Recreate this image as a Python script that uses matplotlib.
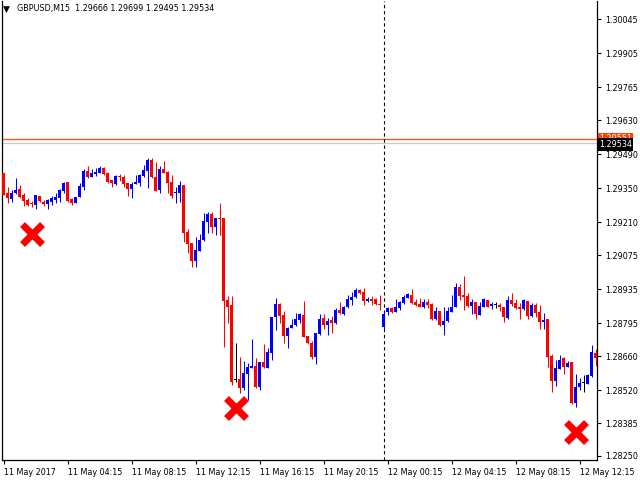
import numpy as np
import matplotlib
matplotlib.use('Agg')
import matplotlib.pyplot as plt

# GBPUSD M15 candles
opens = [
    1.29412, 1.29330, 1.29305, 1.29330, 1.29346, 1.29322, 1.29301, 1.29289, 1.29281, 1.29317,
    1.29293, 1.29285, 1.29293, 1.29301, 1.29309, 1.29338, 1.29375, 1.29305, 1.29289, 1.29313,
    1.29354, 1.29420, 1.29395, 1.29408, 1.29412, 1.29433, 1.29412, 1.29383, 1.29367, 1.29400,
    1.29395, 1.29371, 1.29346, 1.29367, 1.29371, 1.29400, 1.29420, 1.29465, 1.29395, 1.29342,
    1.29428, 1.29416, 1.29375, 1.29330, 1.29330, 1.29363, 1.29170, 1.29124, 1.29050, 1.29092,
    1.29137, 1.29211, 1.29244, 1.29190, 1.29227, 1.29227, 1.28890, 1.28870, 1.28561, 1.28565,
    1.28529, 1.28586, 1.28611, 1.28619, 1.28533, 1.28635, 1.28611, 1.28672, 1.28820, 1.28874,
    1.28829, 1.28743, 1.28775, 1.28788, 1.28808, 1.28829, 1.28743, 1.28714, 1.28656, 1.28751,
    1.28816, 1.28788, 1.28808, 1.28796, 1.28849, 1.28833, 1.28861, 1.28890, 1.28902, 1.28931,
    1.28923, 1.28886, 1.28894, 1.28894, 1.28874, 1.28779, 1.28841, 1.28857, 1.28841, 1.28857,
    1.28878, 1.28898, 1.28911, 1.28882, 1.28874, 1.28861, 1.28882, 1.28874, 1.28812, 1.28845,
    1.28788, 1.28804, 1.28841, 1.28861, 1.28944, 1.28911, 1.28907, 1.28865, 1.28882, 1.28829,
    1.28861, 1.28890, 1.28865, 1.28870, 1.28870, 1.28861, 1.28816, 1.28890, 1.28878, 1.28861,
    1.28853, 1.28886, 1.28824, 1.28870, 1.28841, 1.28800, 1.28812, 1.28660, 1.28557, 1.28606,
    1.28652, 1.28615, 1.28635, 1.28467, 1.28533, 1.28549, 1.28545, 1.28578, 1.28672]
highs = [
    1.29412, 1.29354, 1.29342, 1.29391, 1.29363, 1.29330, 1.29309, 1.29297, 1.29322, 1.29317,
    1.29301, 1.29305, 1.29317, 1.29330, 1.29346, 1.29375, 1.29375, 1.29309, 1.29313, 1.29371,
    1.29428, 1.29441, 1.29428, 1.29433, 1.29441, 1.29437, 1.29416, 1.29383, 1.29404, 1.29408,
    1.29404, 1.29371, 1.29375, 1.29404, 1.29408, 1.29445, 1.29474, 1.29474, 1.29457, 1.29441,
    1.29461, 1.29420, 1.29404, 1.29354, 1.29379, 1.29363, 1.29182, 1.29124, 1.29150, 1.29162,
    1.29248, 1.29252, 1.29252, 1.29227, 1.29289, 1.29227, 1.28907, 1.28907, 1.28714, 1.28656,
    1.28639, 1.28631, 1.28730, 1.28652, 1.28635, 1.28710, 1.28693, 1.28820, 1.28898, 1.28878,
    1.28845, 1.28779, 1.28812, 1.28837, 1.28837, 1.28886, 1.28743, 1.28722, 1.28755, 1.28833,
    1.28833, 1.28816, 1.28824, 1.28857, 1.28882, 1.28865, 1.28911, 1.28923, 1.28940, 1.28935,
    1.28940, 1.28902, 1.28907, 1.28898, 1.28911, 1.28845, 1.28861, 1.28861, 1.28894, 1.28886,
    1.28911, 1.28919, 1.28935, 1.28894, 1.28898, 1.28894, 1.28894, 1.28878, 1.28861, 1.28845,
    1.28861, 1.28861, 1.28911, 1.28960, 1.28956, 1.28989, 1.28919, 1.28894, 1.28882, 1.28882,
    1.28898, 1.28890, 1.28882, 1.28882, 1.28878, 1.28861, 1.28907, 1.28919, 1.28894, 1.28878,
    1.28894, 1.28886, 1.28878, 1.28878, 1.28870, 1.28837, 1.28812, 1.28668, 1.28644, 1.28664,
    1.28656, 1.28639, 1.28635, 1.28586, 1.28570, 1.28582, 1.28586, 1.28706, 1.28689]
lows = [
    1.29322, 1.29289, 1.29293, 1.29326, 1.29309, 1.29276, 1.29276, 1.29272, 1.29264, 1.29293,
    1.29276, 1.29264, 1.29281, 1.29289, 1.29293, 1.29330, 1.29293, 1.29281, 1.29289, 1.29313,
    1.29342, 1.29391, 1.29395, 1.29400, 1.29412, 1.29404, 1.29371, 1.29354, 1.29363, 1.29379,
    1.29354, 1.29317, 1.29309, 1.29367, 1.29359, 1.29395, 1.29350, 1.29391, 1.29338, 1.29330,
    1.29412, 1.29330, 1.29309, 1.29289, 1.29293, 1.29129, 1.29083, 1.29026, 1.29026, 1.29092,
    1.29133, 1.29166, 1.29166, 1.29158, 1.29158, 1.28697, 1.28796, 1.28541, 1.28553, 1.28508,
    1.28520, 1.28479, 1.28611, 1.28529, 1.28520, 1.28611, 1.28611, 1.28644, 1.28767, 1.28796,
    1.28714, 1.28693, 1.28775, 1.28783, 1.28796, 1.28739, 1.28710, 1.28647, 1.28627, 1.28747,
    1.28771, 1.28747, 1.28755, 1.28792, 1.28833, 1.28829, 1.28857, 1.28870, 1.28898, 1.28915,
    1.28870, 1.28882, 1.28870, 1.28870, 1.28849, 1.28771, 1.28829, 1.28837, 1.28841, 1.28849,
    1.28874, 1.28898, 1.28874, 1.28865, 1.28861, 1.28857, 1.28857, 1.28808, 1.28808, 1.28783,
    1.28747, 1.28800, 1.28841, 1.28861, 1.28890, 1.28849, 1.28861, 1.28833, 1.28812, 1.28829,
    1.28861, 1.28861, 1.28853, 1.28857, 1.28845, 1.28800, 1.28812, 1.28865, 1.28853, 1.28812,
    1.28849, 1.28812, 1.28820, 1.28820, 1.28771, 1.28771, 1.28615, 1.28512, 1.28537, 1.28606,
    1.28586, 1.28615, 1.28463, 1.28450, 1.28520, 1.28512, 1.28545, 1.28574, 1.28619]
closes = [
    1.29322, 1.29309, 1.29330, 1.29342, 1.29313, 1.29297, 1.29281, 1.29285, 1.29322, 1.29297,
    1.29285, 1.29301, 1.29309, 1.29313, 1.29342, 1.29371, 1.29297, 1.29289, 1.29313, 1.29359,
    1.29420, 1.29395, 1.29412, 1.29416, 1.29433, 1.29408, 1.29375, 1.29371, 1.29400, 1.29395,
    1.29367, 1.29346, 1.29367, 1.29375, 1.29404, 1.29424, 1.29465, 1.29395, 1.29338, 1.29428,
    1.29412, 1.29371, 1.29317, 1.29334, 1.29363, 1.29166, 1.29120, 1.29050, 1.29096, 1.29137,
    1.29215, 1.29244, 1.29190, 1.29227, 1.29223, 1.28886, 1.28861, 1.28553, 1.28561, 1.28529,
    1.28590, 1.28615, 1.28619, 1.28533, 1.28635, 1.28615, 1.28676, 1.28820, 1.28874, 1.28824,
    1.28743, 1.28775, 1.28788, 1.28812, 1.28833, 1.28739, 1.28714, 1.28656, 1.28755, 1.28812,
    1.28788, 1.28804, 1.28796, 1.28849, 1.28837, 1.28861, 1.28894, 1.28902, 1.28931, 1.28919,
    1.28886, 1.28894, 1.28886, 1.28874, 1.28870, 1.28833, 1.28857, 1.28841, 1.28861, 1.28882,
    1.28902, 1.28915, 1.28878, 1.28870, 1.28861, 1.28882, 1.28870, 1.28812, 1.28845, 1.28788,
    1.28804, 1.28845, 1.28861, 1.28944, 1.28907, 1.28902, 1.28865, 1.28882, 1.28833, 1.28865,
    1.28894, 1.28861, 1.28874, 1.28870, 1.28861, 1.28820, 1.28890, 1.28874, 1.28857, 1.28853,
    1.28890, 1.28824, 1.28870, 1.28837, 1.28800, 1.28808, 1.28656, 1.28557, 1.28611, 1.28644,
    1.28615, 1.28631, 1.28467, 1.28533, 1.28549, 1.28549, 1.28582, 1.28676, 1.28652]

ytick_vals = [1.30045, 1.29905, 1.29765, 1.29630, 1.29490, 1.29350, 1.29210,
              1.29075, 1.28935, 1.28795, 1.28660, 1.28520, 1.28385, 1.28250]
xtick_pos = [0, 16, 32, 48, 64, 80, 96, 112, 128, 144]
xtick_labels = ['11 May 2017', '11 May 04:15', '11 May 08:15', '11 May 12:15',
                '11 May 16:15', '11 May 20:15', '12 May 00:15', '12 May 04:15',
                '12 May 08:15', '12 May 12:15']
header = 'GBPUSD,M15  1.29666 1.29699 1.29495 1.29534'
ask_price = 1.29551
bid_price = 1.29534
cursor_bar = 95
# red crosses: (bar index, price)
cross_x = [7, 58, 143]
cross_y = [1.29161, 1.28446, 1.28348]

o = np.array(opens); h = np.array(highs); l = np.array(lows); c = np.array(closes)
n = len(o)
x = np.arange(n)
cols = np.where(c > o, '#0000ff', np.where(c < o, '#ff0000', '#000000'))

fig = plt.figure(figsize=(6.4, 4.8), dpi=100)
ax = fig.add_axes([2/640, 20/480, 595/640, 459/480])
ax.set_xlim(-0.375, 148.375)
ax.set_ylim(1.28233, 1.30119)

ax.axhline(ask_price, color='#ff5a1a', lw=1.0, zorder=1)
ax.axhline(bid_price, color='#c8c8c8', lw=0.9, zorder=1)
ax.axvline(cursor_bar, color='black', lw=0.8, ls=(0, (3, 2.5)), zorder=1)

ax.vlines(x, l, h, colors=cols, lw=0.75, zorder=2)
body = np.maximum(np.abs(c - o), 0.00004)
ax.bar(x, body, bottom=np.minimum(o, c), width=0.72, color=cols, lw=0,
       zorder=3)

ax.plot(cross_x, cross_y, 'x', color='#ff0000', ms=15, mew=5, zorder=4)

ax.spines['top'].set_visible(False)
for s in ['left', 'right', 'bottom']:
    ax.spines[s].set_linewidth(0.9)
ax.yaxis.tick_right()
ax.set_yticks(ytick_vals)
ax.set_yticklabels(['%.5f' % v for v in ytick_vals])
ax.set_xticks(xtick_pos)
ax.set_xticklabels(xtick_labels, ha='left')
ax.tick_params(axis='both', direction='out', length=3, width=0.8,
               labelsize=5.8, pad=3, colors='black')

# price labels on the axis
ax.text(1.003, ask_price + 0.00003, '1.29551', transform=ax.get_yaxis_transform(),
        fontsize=5.8, va='center', ha='left', color='white', zorder=5,
        bbox=dict(boxstyle='square,pad=0.15', fc='#ff4000', ec='none'),
        clip_on=False)
ax.text(1.003, bid_price - 0.00005, '1.29534', transform=ax.get_yaxis_transform(),
        fontsize=5.8, va='center', ha='left', color='white', zorder=6,
        bbox=dict(boxstyle='square,pad=0.2', fc='black', ec='none'),
        clip_on=False)

fig.text(3/640, 1 - 9/480, '\u25bc', fontsize=6.5, va='center', ha='left')
fig.text(17/640, 1 - 9/480, header, fontsize=5.8, va='center', ha='left')

fig.savefig('out.png', dpi=100, facecolor='white')
